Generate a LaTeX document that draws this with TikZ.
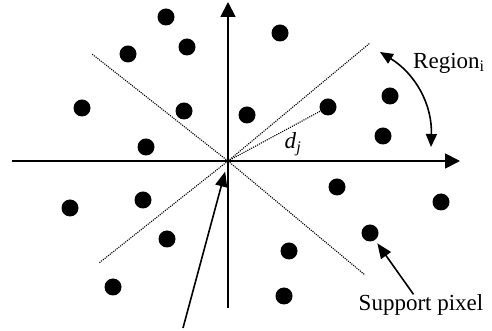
\documentclass[tikz,border=0pt]{standalone}
\usepackage{fontspec}
\setmainfont{Liberation Serif}
\usepackage{tikz}
\usetikzlibrary{arrows.meta}

\begin{document}
\begin{tikzpicture}[x=1pt, y=1pt,
    pixel/.style={circle, fill=black, inner sep=0pt, minimum width=17pt, minimum height=16pt},
    axis/.style={line width=1.8pt, -{Triangle[length=15pt, width=15pt]}},
    sector/.style={line width=1.1pt, dash pattern=on 1.1pt off 1.1pt},
    pointer/.style={line width=1.6pt, -{Triangle[length=15pt, width=12pt]}},
    lbl/.style={font=\fontsize{23}{26}\selectfont, inner sep=0pt}]
    \useasboundingbox (0,0) rectangle (492,331);

    % axes
    \coordinate (o) at (228,170);
    \coordinate (xl) at (12,170);
    \coordinate (xr) at (460,170);
    \coordinate (yb) at (228,23);
    \coordinate (yt) at (228,329);
    \draw[axis] (xl) -- (xr);
    \draw[axis] (yb) -- (yt);

    % region boundaries
    \coordinate (ul) at (92,277);
    \coordinate (ur) at (370,288);
    \coordinate (ll) at (99,68);
    \coordinate (lr) at (365,56);
    \draw[sector] (o) -- (ul);
    \draw[sector] (o) -- (ur);
    \draw[sector] (o) -- (ll);
    \draw[sector] (o) -- (lr);

    % support pixels
    \foreach \n/\x/\y in {1/166/314, 2/280/298, 3/128/277, 4/187/284, 5/82/223,
                          6/184/220, 7/247/216, 8/328/224, 9/390/235, 10/146/184,
                          11/383/195, 12/70/123, 13/143/131, 14/167/92, 15/113/44,
                          16/337/144, 17/441/129, 18/370/98, 19/289/80, 20/284/35}
        \node[pixel] (p\n) at (\x,\y) {};

    % distance to one pixel
    \draw[sector] (o) -- (p8);
    \node[lbl] (dj) at (293,187) {\textit{d}\textsubscript{\textit{j}}};

    % region label
    \coordinate (r1) at (380,279);
    \coordinate (r2) at (431,184);
    \draw[line width=1.6pt, {Triangle[length=13pt, width=11pt]}-{Triangle[length=13pt, width=11pt]}]
        (r1) to[bend left=30] (r2);
    \node[lbl, anchor=west] (region) at (413,268) {Region\textsubscript{i}};

    % support pixel label
    \node[lbl] (support) at (421,26) {Support pixel};
    \draw[pointer, shorten >=4pt] (support.north west) ++(55,0) coordinate (s0) -- (p18);

    % centre pointer
    \coordinate (c0) at (183,3);
    \draw[pointer, shorten >=11pt] (c0) -- (o);
\end{tikzpicture}
\end{document}
